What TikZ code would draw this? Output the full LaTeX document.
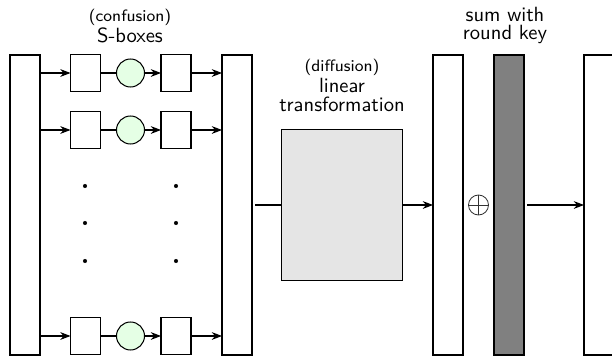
\documentclass[tikz,border=0pt]{standalone}
\usetikzlibrary{arrows.meta}
\begin{document}
\begin{tikzpicture}[x=0.486pt, y=-0.486pt,
  font=\sffamily,
  px/.style 2 args={minimum width=#1*0.486pt, minimum height=#2*0.486pt},
  block/.style={draw, line width=0.95pt, inner sep=0pt, outer sep=0pt, fill=white},
  sbox/.style={block, px={30}{37}},
  tall/.style={block, px={30}{300}},
  sfun/.style={draw, line width=0.5pt, circle, inner sep=0pt, outer sep=0pt,
               minimum size=28*0.486pt, fill=green!10},
  conn/.style={line width=0.5pt},
  arr/.style={conn, -{Stealth[length=5pt, width=3.8pt]}},
  dot/.style={circle, fill=black, inner sep=0pt, minimum size=2pt},
  small/.style={font=\sffamily\footnotesize, anchor=base},
  label/.style={font=\sffamily, anchor=base}]
\useasboundingbox (0,0) rectangle (612,357);

% state columns
\node[tall] (in)   at (25,205)  {};
\node[tall] (sout) at (237,205) {};
\node[tall] (mix)  at (448,205) {};
\node[tall, fill=black!50] (key) at (509,205) {};
\node[tall] (out)  at (599,205) {};

% S-box rows
\foreach \r/\y in {1/73, 2/130, 3/336} {
  \node[sbox] (a\r) at (85.5,\y) {};
  \node[sfun] (s\r) at (130.5,\y) {};
  \node[sbox] (b\r) at (176,\y) {};
  \draw[arr]  (in.east |- a\r.west) -- (a\r.west);
  \draw[conn] (a\r.east) -- (s\r.west);
  \draw[arr]  (s\r.east) -- (b\r.west);
  \draw[arr]  (b\r.east) -- (sout.west |- b\r.east);
}

% elided rows
\foreach \y [count=\i] in {186, 223, 261} {
  \node[dot] (da\i) at (85,\y) {};
  \node[dot] (db\i) at (176,\y) {};
}

% linear layer
\node[block, fill=black!10, px={121}{151}] (lt) at (342,205) {};
\draw[conn, shorten <=1.5pt] (sout.east) -- (lt.west);
\draw[arr] (lt.east) -- (mix.west);

% key addition
\node[circle, draw=black!80, line width=0.4pt, inner sep=0pt,
      minimum size=20*0.486pt] (xor) at (478.5,205) {};
\draw[black!80, line width=0.4pt] (xor.north) -- (xor.south)
                                  (xor.west) -- (xor.east);
\draw[arr, shorten <=1.5pt] (key.east) -- (out.west);

% captions
\node[small] (t1) at (130,22)  {(confusion)};
\node[label] (t2) at (130,43)  {S-boxes};
\node[small] (t3) at (342,72)  {(diffusion)};
\node[label] (t4) at (342,93)  {linear};
\node[label] (t5) at (342,112) {transformation};
\node[label] (t6) at (505,22)  {sum with};
\node[label] (t7) at (505,40)  {round key};
\end{tikzpicture}
\end{document}
